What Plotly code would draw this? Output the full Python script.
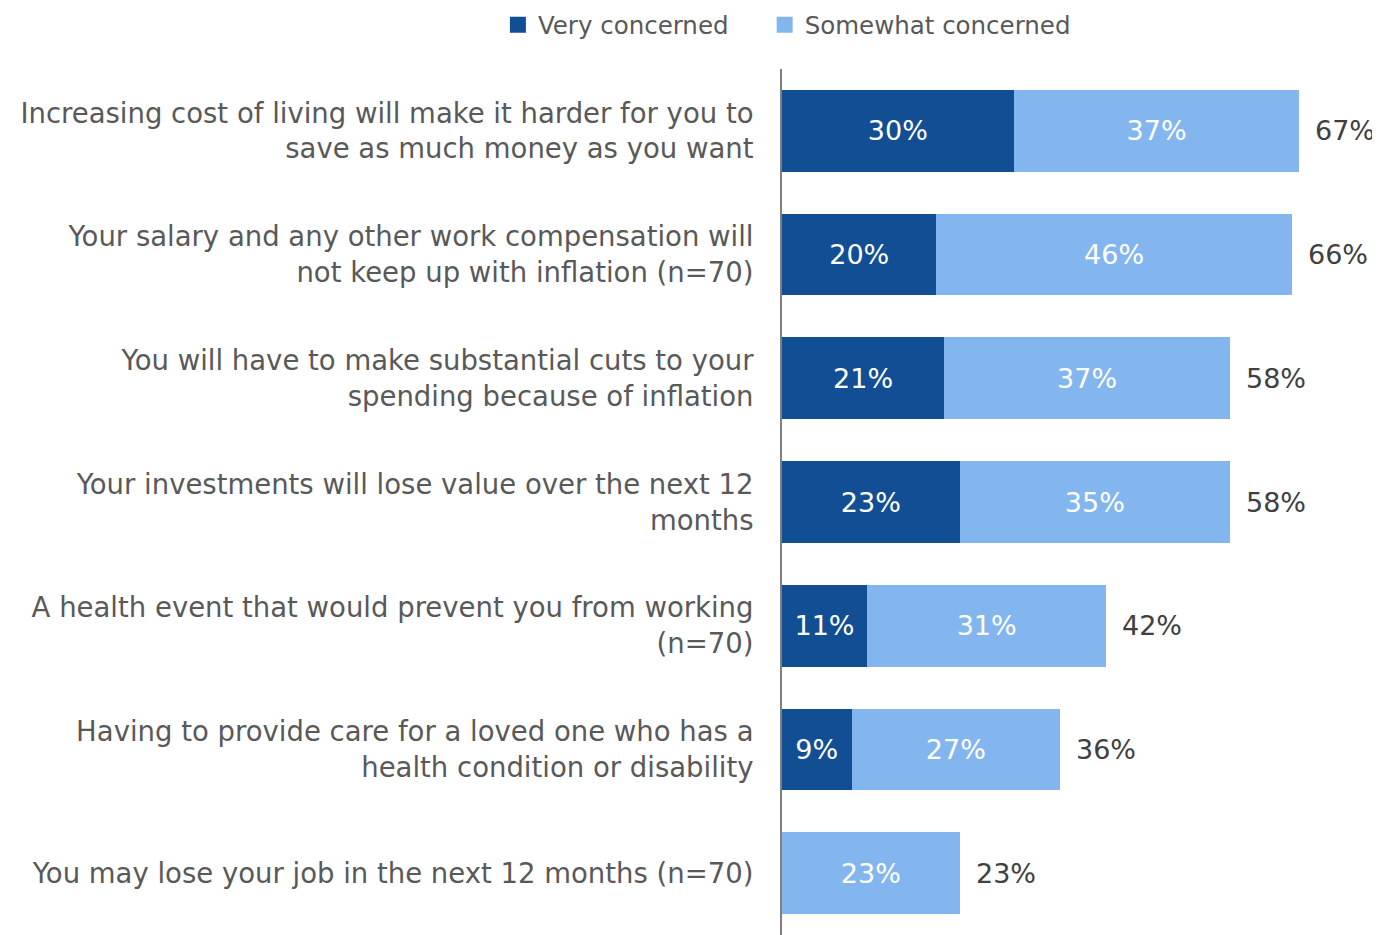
import plotly.graph_objects as go

categories = [
    "Increasing cost of living will make it harder for you to<br>save as much money as you want",
    "Your salary and any other work compensation will<br>not keep up with inflation (n=70)",
    "You will have to make substantial cuts to your<br>spending because of inflation",
    "Your investments will lose value over the next 12<br>months",
    "A health event that would prevent you from working<br>(n=70)",
    "Having to provide care for a loved one who has a<br>health condition or disability",
    "You may lose your job in the next 12 months (n=70)",
]
very = [30, 20, 21, 23, 11, 9, 0]
somewhat = [37, 46, 37, 35, 31, 27, 23]
totals = [67, 66, 58, 58, 42, 36, 23]
series_names = ["Very concerned", "Somewhat concerned"]

FONT = "DejaVu Sans"
DARK = "#124E94"
LIGHT = "#83B6EF"
GREY = "#595959"

fig = go.Figure()
for name, vals, col in [(series_names[0], very, DARK), (series_names[1], somewhat, LIGHT)]:
    fig.add_trace(go.Bar(y=categories, x=vals, orientation="h", name=name,
                         marker_color=col, marker_line_width=0, showlegend=False,
                         text=[f"{v}%" if v else "" for v in vals], textposition="inside",
                         insidetextanchor="middle", textangle=0,
                         textfont=dict(color="white", size=27, family=FONT)))
    # legend entry with a bigger square, padded so the items sit further apart
    fig.add_trace(go.Scatter(x=[None], y=[None], mode="markers", name=name + "\u00a0" * 4,
                             marker=dict(symbol="square", size=20, color=col)))

for cat, t in zip(categories, totals):
    fig.add_annotation(x=t, y=cat, text=f"{t}%", showarrow=False, xanchor="left",
                       xshift=14, font=dict(size=27, color="#404040", family=FONT))

# page body has an 8px margin, so the figure is 8px smaller than the window
fig.update_layout(
    barmode="stack", bargap=0.34,
    width=1372, height=927,
    margin=dict(l=774, r=11, t=61, b=0, autoexpand=False),
    plot_bgcolor="white", paper_bgcolor="white",
    font=dict(family=FONT, color=GREY),
    legend=dict(orientation="h", xref="paper", yref="paper",
                x=-0.484, y=1.051, xanchor="left", yanchor="middle",
                traceorder="normal", itemsizing="trace",
                font=dict(size=24.5, color=GREY, family=FONT), itemwidth=30),
    xaxis=dict(range=[0, 76], visible=False),
    yaxis=dict(autorange="reversed", showline=True, linecolor="#7F7F7F", linewidth=2,
               ticks="", ticklabelstandoff=21,
               tickfont=dict(size=27.5, color=GREY, family=FONT)),
)

fig.write_html("out.html")
